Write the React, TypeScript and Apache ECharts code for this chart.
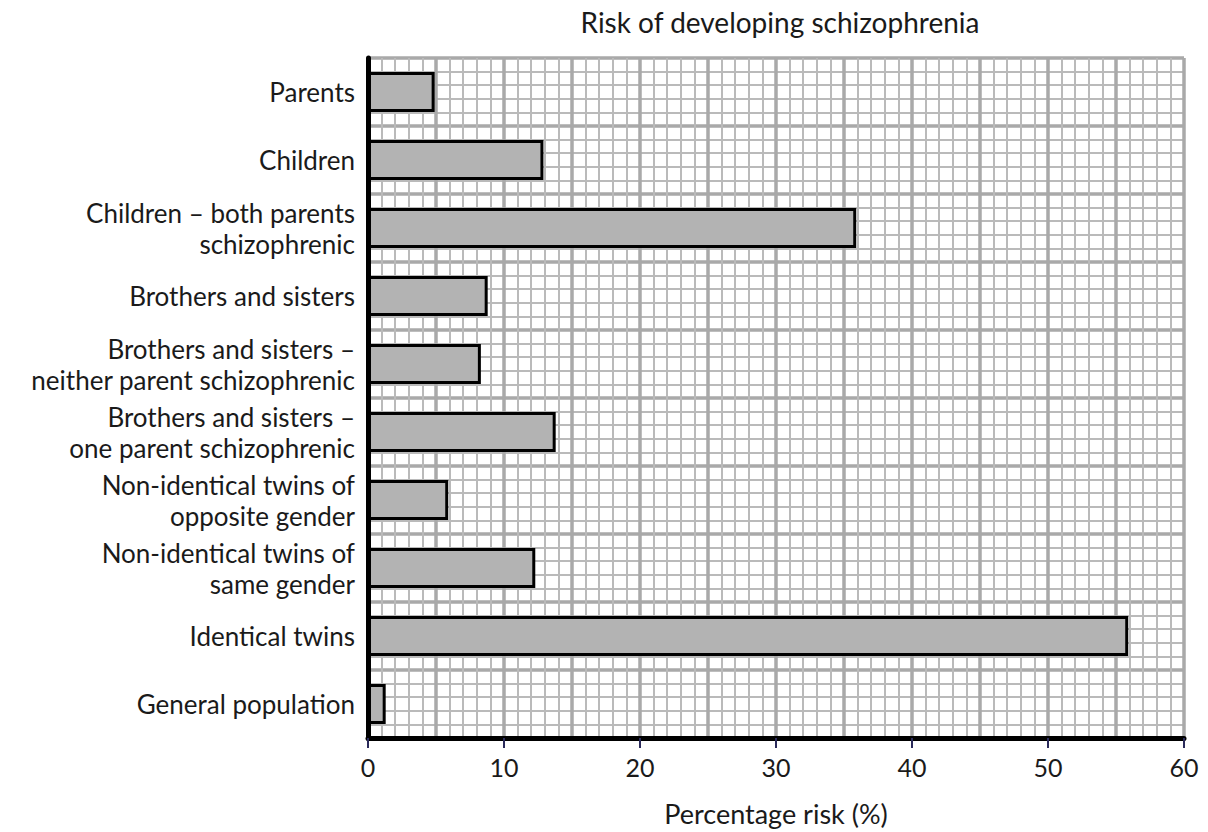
import React, { useEffect, useRef } from "react";
import * as echarts from "echarts";

const categories = [
  "Parents",
  "Children",
  "Children – both parents\nschizophrenic",
  "Brothers and sisters",
  "Brothers and sisters –\nneither parent schizophrenic",
  "Brothers and sisters –\none parent schizophrenic",
  "Non-identical twins of\nopposite gender",
  "Non-identical twins of\nsame gender",
  "Identical twins",
  "General population",
];
const riskValues = [4.9, 12.9, 35.9, 8.8, 8.3, 13.8, 5.9, 12.3, 55.9, 1.3];
const xTicks = [0, 10, 20, 30, 40, 50, 60];

const FONT = "Lato";

export default function App() {
  const ref = useRef<HTMLDivElement>(null);
  useEffect(() => {
    if (!ref.current) return;
    const chart = echarts.init(ref.current, null, { renderer: "svg" });
    const hiddenBase = {
      type: "value",
      axisLine: { show: false },
      axisTick: { show: false },
      axisLabel: { show: false },
    };
    chart.setOption({
      animation: false,
      backgroundColor: "#ffffff",
      title: {
        text: "Risk of developing schizophrenia",
        left: 775,
        textAlign: "center",
        top: 3,
        textStyle: { fontFamily: FONT, fontSize: 28, fontWeight: "normal", color: "#1a1a1a" },
      },
      grid: { left: 368, right: 24, top: 58, bottom: 92, containLabel: false },
      xAxis: [
        {
          type: "value",
          min: xTicks[0],
          max: xTicks[xTicks.length - 1],
          interval: 10,
          position: "bottom",
          name: "Percentage risk (%)",
          nameLocation: "middle",
          nameGap: 62,
          nameTextStyle: { fontFamily: FONT, fontSize: 27, color: "#1a1a1a" },
          axisLine: { show: true, onZero: false, lineStyle: { color: "#000", width: 5 } },
          axisTick: { show: true, length: 10, lineStyle: { color: "#2a2a5a", width: 2 } },
          axisLabel: { fontFamily: FONT, fontSize: 25, color: "#1a1a1a", margin: 16 },
          splitLine: { show: false },
          z: 5,
        },
        {
          ...hiddenBase,
          min: 0,
          max: 60,
          interval: 1,
          splitLine: { show: true, lineStyle: { color: "#bababa", width: 2 } },
        },
        {
          ...hiddenBase,
          min: 0,
          max: 60,
          interval: 5,
          splitLine: { show: true, lineStyle: { color: "#a9a9a9", width: 3.5 } },
        },
      ],
      yAxis: [
        {
          type: "category",
          data: categories,
          inverse: true,
          axisLine: { show: true, lineStyle: { color: "#000", width: 5 } },
          axisTick: { show: false },
          axisLabel: {
            fontFamily: FONT,
            fontSize: 26,
            color: "#1a1a1a",
            lineHeight: 31,
            margin: 13,
            align: "right",
          },
          splitLine: { show: false },
          z: 5,
        },
        {
          ...hiddenBase,
          min: 0,
          max: 50,
          interval: 1,
          splitLine: { show: true, lineStyle: { color: "#bababa", width: 2 } },
        },
        {
          ...hiddenBase,
          min: 0,
          max: 50,
          interval: 5,
          splitLine: { show: true, lineStyle: { color: "#a9a9a9", width: 3.5 } },
        },
      ],
      series: [
        {
          type: "bar",
          xAxisIndex: 0,
          yAxisIndex: 0,
          data: riskValues,
          barWidth: 40,
          itemStyle: { color: "#b3b3b3", borderColor: "#000", borderWidth: 3 },
          z: 3,
        },
      ],
    });
    return () => chart.dispose();
  }, []);
  return (
    <div
      ref={ref}
      style={{ position: "absolute", left: 0, top: 0, width: 1208, height: 832 }}
    />
  );
}
